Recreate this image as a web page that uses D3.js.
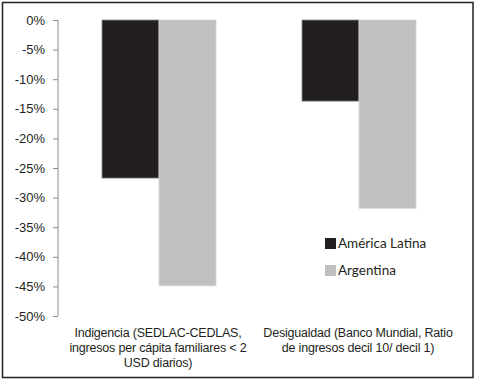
<!DOCTYPE html>
<html><head><meta charset="utf-8">
<script src="https://cdn.jsdelivr.net/npm/d3@7/dist/d3.min.js"></script>
<style>body{margin:0;background:#fff}svg{display:block}</style>
</head><body>
<svg id="c" width="477" height="382"></svg>
<script>
const categories = [
  ["Indigencia (SEDLAC-CEDLAS,", "ingresos per cápita familiares < 2", "USD diarios)"],
  ["Desigualdad (Banco Mundial, Ratio", "de ingresos decil 10/ decil 1)"]
];
const seriesNames = ["América Latina", "Argentina"];
const americaLatina = [-26.7, -13.7];
const argentina = [-44.9, -31.8];
const yTicks = [0, -5, -10, -15, -20, -25, -30, -35, -40, -45, -50];
const colors = ["#231f20", "#bfc0c2"];

const svg = d3.select("#c");
svg.append("rect").attr("x", 2.5).attr("y", 2.5).attr("width", 470.5).attr("height", 375)
  .attr("fill", "#fff").attr("stroke", "#231f20").attr("stroke-width", 1.5);

const x0 = d3.scaleBand().domain([0, 1]).range([58, 458]).paddingInner(0).paddingOuter(0);
const x1 = d3.scaleBand().domain([0, 1]).range([44, 158]);
const y = d3.scaleLinear().domain([0, -50]).range([20, 316]);

const series = [americaLatina, argentina];
const g = svg.append("g");
categories.forEach((c, i) => {
  series.forEach((s, j) => {
    const v = s[i];
    g.append("rect")
      .attr("x", x0(i) + x1(j))
      .attr("y", y(0))
      .attr("width", x1.bandwidth())
      .attr("height", y(v) - y(0))
      .attr("fill", colors[j])
      .attr("stroke", j === 0 ? "#8a8a8a" : "#d4d5d6")
      .attr("stroke-width", 0.8);
  });
});

const axis = d3.axisLeft(y).tickValues(yTicks).tickSize(5).tickFormat(d => d + "%");
const ag = svg.append("g").attr("transform", "translate(58,0)").call(axis);
ag.select(".domain").attr("stroke", "#8c8c8c").attr("d", "M0," + y(0) + "V" + y(-50));
ag.selectAll(".tick line").attr("stroke", "#8c8c8c");
ag.selectAll(".tick text").attr("x", -13).attr("fill", "#231f20")
  .style("font-family", "'Liberation Sans', Arial, sans-serif").style("font-size", "13px");

categories.forEach((lines, i) => {
  const t = svg.append("text").attr("text-anchor", "middle")
    .style("font-family", "'Liberation Sans', Arial, sans-serif").style("font-size", "12.5px")
    .style("letter-spacing", "-0.2px").attr("fill", "#231f20");
  lines.forEach((l, k) => {
    t.append("tspan").attr("x", x0(i) + x0.bandwidth() / 2).attr("y", 337 + k * 15).text(l);
  });
});

const lg = svg.append("g");
seriesNames.forEach((n, j) => {
  lg.append("rect").attr("x", 325).attr("y", 238 + j * 27).attr("width", 11).attr("height", 11).attr("fill", colors[j]);
  lg.append("text").attr("x", 338).attr("y", 248 + j * 27).text(n)
    .style("font-family", "Lato, 'Open Sans', sans-serif").style("font-size", "13.5px").attr("fill", "#231f20");
});
</script>
</body></html>
